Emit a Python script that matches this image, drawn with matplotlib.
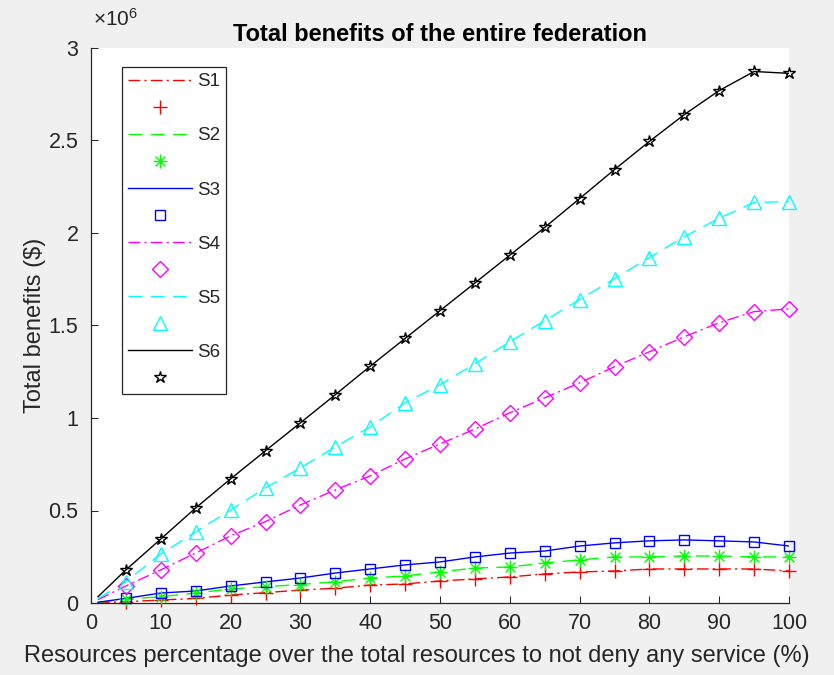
import matplotlib
matplotlib.use("Agg")
import matplotlib.pyplot as plt
from matplotlib.path import Path
import numpy as np

plt.rcParams['font.family'] = ['Liberation Sans', 'DejaVu Sans']
plt.rcParams['mathtext.fontset'] = 'custom'
plt.rcParams['mathtext.rm'] = 'Liberation Sans'
plt.rcParams['mathtext.it'] = 'Liberation Sans:italic'

# ---- data (values in millions of $) ----
x_markers = [5, 10, 15, 20, 25, 30, 35, 40, 45, 50, 55, 60, 65, 70, 75, 80, 85, 90, 95, 100]
x_start = 1
series_names = ['S1', 'S2', 'S3', 'S4', 'S5', 'S6']
start_values = [0.002, 0.003, 0.004, 0.018, 0.024, 0.034]
s1 = [0.007, 0.016, 0.025, 0.043, 0.056, 0.070, 0.080, 0.097, 0.103, 0.119,
      0.130, 0.141, 0.157, 0.168, 0.173, 0.184, 0.184, 0.184, 0.184, 0.173]
s2 = [0.020, 0.034, 0.054, 0.076, 0.088, 0.100, 0.115, 0.135, 0.146, 0.168,
      0.189, 0.195, 0.216, 0.233, 0.249, 0.249, 0.254, 0.254, 0.249, 0.249]
s3 = [0.025, 0.054, 0.065, 0.092, 0.114, 0.135, 0.162, 0.184, 0.206, 0.222,
      0.249, 0.270, 0.281, 0.308, 0.325, 0.336, 0.341, 0.336, 0.330, 0.308]
s4 = [0.092, 0.179, 0.270, 0.363, 0.440, 0.530, 0.611, 0.687, 0.779, 0.860,
      0.940, 1.028, 1.109, 1.190, 1.277, 1.358, 1.439, 1.515, 1.575, 1.590]
s5 = [0.115, 0.265, 0.384, 0.503, 0.622, 0.730, 0.844, 0.952, 1.082, 1.180,
      1.293, 1.412, 1.526, 1.640, 1.753, 1.867, 1.980, 2.080, 2.165, 2.170]
s6 = [0.179, 0.346, 0.514, 0.671, 0.823, 0.974, 1.126, 1.280, 1.430, 1.580,
      1.730, 1.880, 2.030, 2.186, 2.343, 2.495, 2.640, 2.770, 2.873, 2.863]
series_values = [s1, s2, s3, s4, s5, s6]

x_ticks = [0, 10, 20, 30, 40, 50, 60, 70, 80, 90, 100]
y_ticks = [0, 0.5, 1, 1.5, 2, 2.5, 3]
y_tick_labels = ['0', '0.5', '1', '1.5', '2', '2.5', '3']

# ---- styles ----
# MATLAB-style asterisk marker (4 crossing strokes)
_verts, _codes = [], []
for a in np.deg2rad([0, 45, 90, 135]):
    c, s = np.cos(a), np.sin(a)
    _verts += [(-c, -s), (c, s)]
    _codes += [Path.MOVETO, Path.LINETO]
asterisk = Path(_verts, _codes)

colors = ['#ff0000', '#00ff00', '#0000ff', '#ff00ff', '#00ffff', '#000000']
dashes = [(8.5, 3, 1.5, 3), (10, 6), None, (8.5, 3, 1.5, 3), (10, 6), None]
markers = ['+', asterisk, 's', 'D', '^', '*']
msizes = [10, 10, 7, 8, 10, 9]
mfcs = ['none', 'none', 'none', 'none', 'none', 'none']

scale = 1e6
W, H = 834, 675
fig = plt.figure(figsize=(W / 100, H / 100), dpi=100, facecolor='#f0f0f0')
ax = fig.add_axes([91 / W, 1 - 603 / H, (789 - 91) / W, (603 - 48) / H])
ax.set_facecolor('white')

gray = '#262626'
handles = []
for name, st, vals, c, d, m, ms, mfc in zip(series_names, start_values, series_values,
                                             colors, dashes, markers, msizes, mfcs):
    lx = [x_start] + x_markers
    ly = [st * scale] + [v * scale for v in vals]
    kw = dict(color=c, lw=1.0)
    if d is not None:
        kw['dashes'] = d
    ln, = ax.plot(lx, ly, label=name, **kw)
    mk, = ax.plot(x_markers, [v * scale for v in vals], label=' ', ls='none', marker=m,
                  color=c, ms=ms, mew=1.0, mfc=mfc, clip_on=False, zorder=3)
    handles += [ln, mk]

ax.set_xlim(0, 100)
ax.set_ylim(0, 3 * scale)
ax.set_xticks(x_ticks)
ax.set_yticks([t * scale for t in y_ticks])
ax.set_yticklabels(y_tick_labels)
ax.tick_params(direction='in', length=5, width=0.75, colors=gray, labelsize=15.5)
ax.tick_params(axis='x', pad=7)
ax.tick_params(axis='y', pad=9)
for s in ['top', 'right']:
    ax.spines[s].set_visible(False)
for s in ['left', 'bottom']:
    ax.spines[s].set_color(gray)
    ax.spines[s].set_linewidth(0.9)

ax.text(0.003, 1.033, r'$\times 10^{6}$', transform=ax.transAxes, ha='left', va='bottom',
        fontsize=15, color=gray)

ax.set_title('Total benefits of the entire federation', fontsize=17, fontweight='bold',
             color='black', pad=5)
ax.set_xlabel('Resources percentage over the total resources to not deny any service (%)',
              fontsize=17, color=gray)
ax.xaxis.set_label_coords((417 - 91) / (789 - 91), -0.076)
ax.xaxis.label.set_verticalalignment('top')
ax.set_ylabel('Total benefits ($)', fontsize=17, color=gray, labelpad=2)

leg = ax.legend(handles=handles, loc='upper left',
                bbox_to_anchor=(122 / W, 1 - 67 / H), bbox_transform=fig.transFigure,
                fontsize=13.5, handlelength=3.4, handletextpad=0.27, labelspacing=0.53,
                borderpad=0.33, borderaxespad=0, numpoints=1, fancybox=False,
                framealpha=1, edgecolor=gray)
leg.get_frame().set_linewidth(0.9)
for t in leg.get_texts():
    t.set_color(gray)

fig.savefig('out.png', dpi=100, facecolor=fig.get_facecolor())
